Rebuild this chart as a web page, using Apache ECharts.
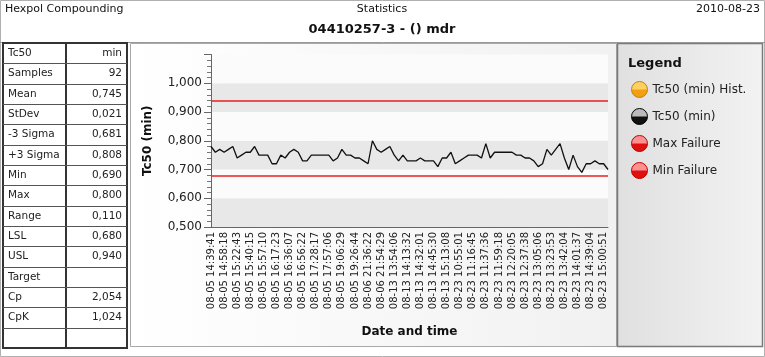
<!DOCTYPE html>
<html>
<head>
<meta charset="utf-8">
<script src="https://cdn.jsdelivr.net/npm/echarts@6/dist/echarts.min.js"></script>
<style>
html,body{margin:0;padding:0;background:#fff;}
#chart{width:765px;height:357px;}
</style>
</head>
<body>
<div id="chart"></div>
<script>
// ---- data ----
var tickLabels = [
  '08-05 14:39:41','08-05 14:58:18','08-05 15:22:43','08-05 15:40:15','08-05 15:57:10',
  '08-05 16:17:23','08-05 16:36:07','08-05 16:56:22','08-05 17:28:17','08-05 17:57:06',
  '08-05 19:06:29','08-05 19:26:44','08-06 21:36:22','08-06 21:54:29','08-13 13:54:06',
  '08-13 14:13:32','08-13 14:32:01','08-13 14:45:30','08-13 15:13:08','08-23 10:55:01',
  '08-23 11:16:45','08-23 11:37:36','08-23 11:59:18','08-23 12:20:05','08-23 12:37:38',
  '08-23 13:05:06','08-23 13:23:53','08-23 13:42:04','08-23 14:01:37','08-23 14:39:04',
  '08-23 15:00:51'
];
var tc50 = [
  0.78,0.76,0.77,0.76,0.77,0.78,0.74,0.75,0.76,0.76,
  0.78,0.75,0.75,0.75,0.72,0.72,0.75,0.74,0.76,0.77,
  0.76,0.73,0.73,0.75,0.75,0.75,0.75,0.75,0.73,0.74,
  0.77,0.75,0.75,0.74,0.74,0.73,0.72,0.80,0.77,0.76,
  0.77,0.78,0.75,0.73,0.75,0.73,0.73,0.73,0.74,0.73,
  0.73,0.73,0.71,0.74,0.74,0.76,0.72,0.73,0.74,0.75,
  0.75,0.75,0.74,0.79,0.74,0.76,0.76,0.76,0.76,0.76,
  0.75,0.75,0.74,0.74,0.73,0.71,0.72,0.77,0.75,0.77,
  0.79,0.74,0.70,0.75,0.71,0.69,0.72,0.72,0.73,0.72,
  0.72,0.70
];
var USL = 0.94;
var LSL = 0.68;
var statNames = ['Tc50','Samples','Mean','StDev','-3 Sigma','+3 Sigma','Min','Max','Range','LSL','USL','Target','Cp','CpK',''];
var statValues = ['min','92','0,745','0,021','0,681','0,808','0,690','0,800','0,110','0,680','0,940','','2,054','1,024',''];
var legendNames = ['Tc50 (min) Hist.','Tc50 (min)','Max Failure','Min Failure'];

// categories: one per sample, labelled every third sample
var categories = tc50.map(function(v, i){ return (i % 3 === 0 && tickLabels[i/3]) ? tickLabels[i/3] : ''; });

var FONT = 'DejaVu Sans';
function glossy(top, bottom){
  return new echarts.graphic.LinearGradient(0,0,0,1,[
    {offset:0,color:top},{offset:0.48,color:top},{offset:0.52,color:bottom},{offset:1,color:bottom}
  ]);
}

// ---- graphic: header, table, panels ----
var g = [];
g.push({type:'rect', z:-100, shape:{x:130.5,y:43.5,width:486,height:303},
  style:{fill:new echarts.graphic.LinearGradient(0,0,1,0,[{offset:0,color:'#ffffff'},{offset:1,color:'#f1f1f1'}]), stroke:'#a8a8a8', lineWidth:1}});
g.push({type:'rect', z:-100, shape:{x:617.5,y:43.5,width:145,height:303},
  style:{fill:new echarts.graphic.LinearGradient(0,0,1,0,[{offset:0,color:'#e0e0e0'},{offset:1,color:'#f2f2f2'}]), stroke:'#7a7a7a', lineWidth:1.5}});
g.push({type:'line', z:-90, shape:{x1:0,y1:42.5,x2:765,y2:42.5}, style:{stroke:'#9a9a9a',lineWidth:1}});
g.push({type:'rect', z:-100, shape:{x:0.5,y:0.5,width:764,height:356}, style:{fill:null, stroke:'#b0b0b0', lineWidth:1}});
g.push({type:'text', style:{text:'Hexpol Compounding', x:5, y:9, font:'11px "'+FONT+'"', fill:'#111', textVerticalAlign:'middle'}});
g.push({type:'text', style:{text:'Statistics', x:382, y:9, font:'11px "'+FONT+'"', fill:'#111', textAlign:'center', textVerticalAlign:'middle'}});
g.push({type:'text', style:{text:'2010-08-23', x:760, y:9, font:'11px "'+FONT+'"', fill:'#111', textAlign:'right', textVerticalAlign:'middle'}});
g.push({type:'text', style:{text:'04410257-3 - () mdr', x:382, y:30, font:'bold 13px "'+FONT+'"', fill:'#111', textAlign:'center', textVerticalAlign:'middle'}});
g.push({type:'text', style:{text:'Legend', x:628, y:64, font:'bold 13px "'+FONT+'"', fill:'#111', textVerticalAlign:'middle'}});
var tX0 = 3, tX1 = 127, tXm = 66, tY0 = 43, rowH = 20.33;
g.push({type:'rect', shape:{x:tX0,y:tY0,width:tX1-tX0,height:rowH*statNames.length}, style:{fill:'#fff', stroke:'#333', lineWidth:2}});
g.push({type:'line', shape:{x1:tXm,y1:tY0,x2:tXm,y2:tY0+rowH*statNames.length}, style:{stroke:'#333', lineWidth:2}});
statNames.forEach(function(name, i){
  var yc = tY0 + rowH*i + rowH/2;
  if (i > 0) g.push({type:'line', shape:{x1:tX0,y1:Math.round(tY0+rowH*i)+0.5,x2:tX1,y2:Math.round(tY0+rowH*i)+0.5}, style:{stroke:'#555', lineWidth:1}});
  g.push({type:'text', style:{text:name, x:8, y:yc, font:'10.5px "'+FONT+'"', fill:'#222', textVerticalAlign:'middle'}});
  g.push({type:'text', style:{text:statValues[i], x:122, y:yc, font:'10.5px "'+FONT+'"', fill:'#222', textAlign:'right', textVerticalAlign:'middle'}});
});

var chart = echarts.init(document.getElementById('chart'), null, {renderer:'canvas'});
var option = {
  animation:false,
  textStyle:{fontFamily:FONT},
  graphic:{elements:g},
  grid:{left:211, right:157, top:54.5, bottom:130, containLabel:false},
  legend:{
    orient:'vertical', left:626, top:76, itemGap:10, itemWidth:16, itemHeight:16, icon:'circle',
    textStyle:{fontSize:12, color:'#222', fontFamily:FONT},
    data:[
      {name:legendNames[0], itemStyle:{color:glossy('#ffd060','#f0a010'), borderColor:'#c88000', borderWidth:1}},
      {name:legendNames[1], itemStyle:{color:glossy('#bbbbbb','#111111'), borderColor:'#000', borderWidth:1}},
      {name:legendNames[2], itemStyle:{color:glossy('#ff9090','#e01010'), borderColor:'#c00000', borderWidth:1}},
      {name:legendNames[3], itemStyle:{color:glossy('#ff9090','#e01010'), borderColor:'#c00000', borderWidth:1}}
    ],
    selectedMode:false
  },
  xAxis:{
    type:'category', data:categories, boundaryGap:false,
    name:'Date and time', nameLocation:'middle', nameGap:99,
    nameTextStyle:{fontWeight:'bold', fontSize:12, color:'#111', fontFamily:FONT},
    axisLine:{show:true, lineStyle:{color:'#666', width:1}},
    axisTick:{show:false},
    axisLabel:{interval:2, rotate:90, fontSize:10, color:'#222', margin:5, fontFamily:FONT},
    splitLine:{show:false}
  },
  yAxis:{
    type:'value', min:0.5, max:1.1, interval:0.1,
    name:'Tc50 (min)', nameLocation:'middle', nameGap:57, nameRotate:90,
    nameTextStyle:{fontWeight:'bold', fontSize:12, color:'#111', fontFamily:FONT},
    axisLine:{show:true, lineStyle:{color:'#666', width:1}},
    axisTick:{show:true, inside:false, length:7, lineStyle:{color:'#666'}},
    minorTick:{show:true, splitNumber:5, length:4, lineStyle:{color:'#777'}},
    axisLabel:{showMaxLabel:false, fontSize:12, color:'#222', margin:9, fontFamily:FONT,
      formatter:function(v){ return v.toFixed(3).replace('.', ','); }},
    splitLine:{show:false},
    splitArea:{show:true, areaStyle:{color:['#e8e8e8','#fbfbfb']}}
  },
  series:[
    {name:legendNames[0], type:'line', data:[], itemStyle:{color:'#f0a010'}},
    {name:legendNames[1], type:'line', data:tc50, symbol:'none', lineStyle:{color:'#111', width:1.3}, itemStyle:{color:'#111'}, z:5},
    {name:legendNames[2], type:'line', data:[], itemStyle:{color:'#e01010'},
      markLine:{silent:true, symbol:'none', label:{show:false}, lineStyle:{color:'#e82020', width:1.5, type:'solid'}, data:[{yAxis:USL}]}},
    {name:legendNames[3], type:'line', data:[], itemStyle:{color:'#e01010'},
      markLine:{silent:true, symbol:'none', label:{show:false}, lineStyle:{color:'#e82020', width:1.5, type:'solid'}, data:[{yAxis:LSL}]}}
  ]
};
chart.setOption(option);
</script>
</body>
</html>
